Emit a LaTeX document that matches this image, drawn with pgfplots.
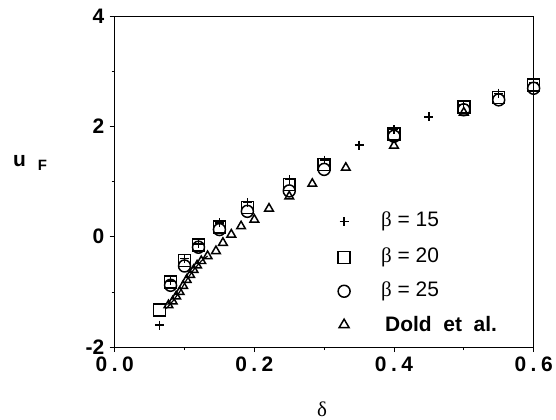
\documentclass[border=0pt]{standalone}
\usepackage{pgfplots}
\pgfplotsset{compat=1.18}
\usepackage{fontspec}
\setmainfont{Liberation Sans}
\newfontfamily\serifgreek{Liberation Serif}
\begin{document}
\begin{tikzpicture}
\begin{axis}[
  name=ax,
  scale only axis,
  width=420pt, height=332pt,
  xmin=0, xmax=0.6, ymin=-2, ymax=4,
  xtick={0,0.2,0.4,0.6},
  xticklabels={0\kern4.5pt.\kern4.5pt0,0\kern4.5pt.\kern4.5pt2,0\kern4.5pt.\kern4.5pt4,0\kern4.5pt.\kern4.5pt6},
  ytick={-2,0,2,4},
  yticklabels={-2,0,2,4},
  minor xtick={0.1,0.3,0.5},
  minor ytick={-1,1,3},
  xtick pos=left, ytick pos=left,
  tick align=outside,
  major tick length=5pt, minor tick length=3pt,
  tick style={black, line width=0.8pt},
  axis line style={line width=0.9pt},
  tick label style={font=\fontsize{21}{23}\selectfont\bfseries},
  xticklabel style={yshift=-1pt},
  yticklabel style={xshift=-2pt},
  clip=false,
]
% Dold et al. (triangles)
\addplot[only marks, mark=triangle, mark size=5pt, mark options={line width=1.5pt, black}] coordinates {
(0.077,-1.24) (0.083,-1.17) (0.088,-1.08) (0.093,-1.00) (0.098,-0.89)
(0.103,-0.78) (0.108,-0.69) (0.113,-0.60) (0.118,-0.52) (0.124,-0.44)
(0.133,-0.35) (0.145,-0.26) (0.155,-0.11) (0.167,0.04) (0.181,0.19)
(0.200,0.31) (0.221,0.51) (0.250,0.73) (0.283,0.96) (0.331,1.25)
(0.400,1.65) (0.500,2.25)};
\addplot[black, line width=1.2pt] coordinates {
(0.074,-1.30) (0.083,-1.17) (0.093,-1.00) (0.103,-0.78) (0.113,-0.60) (0.124,-0.44) (0.133,-0.35)};
% beta = 20 (squares)
\addplot[only marks, mark=square, mark size=6pt, mark options={line width=1.5pt, black}] coordinates {
(0.064,-1.33) (0.080,-0.82) (0.100,-0.43) (0.120,-0.15) (0.150,0.18)
(0.190,0.53) (0.250,0.95) (0.300,1.31) (0.400,1.86) (0.500,2.35)
(0.550,2.52) (0.600,2.75)};
% beta = 25 (circles)
\addplot[only marks, mark=o, mark size=6pt, mark options={line width=1.5pt, black}] coordinates {
(0.080,-0.88) (0.100,-0.53) (0.120,-0.19) (0.150,0.13) (0.190,0.46)
(0.250,0.83) (0.300,1.22) (0.400,1.82) (0.500,2.30) (0.550,2.48)
(0.600,2.69)};
% beta = 15 (plus)
\addplot[only marks, mark=+, mark size=4.5pt, mark options={line width=1.3pt, black}] coordinates {
(0.064,-1.60) (0.080,-0.80) (0.100,-0.40) (0.120,-0.13) (0.150,0.25)
(0.190,0.62) (0.250,1.04) (0.300,1.39) (0.350,1.66) (0.400,1.94)
(0.450,2.17) (0.500,2.39) (0.550,2.60) (0.600,2.80)};
\end{axis}
\begin{scope}[shift={(ax.south west)}, x=1pt, y=1pt]
  \path (-115,-70) rectangle (441,348);
  % legend
  \draw[black, line width=1.3pt] (230-4.5,126) -- (230+4.5,126) (230,126-4.5) -- (230,126+4.5);
  \draw[black, line width=1.5pt] (230-6,90-6) rectangle (230+6,90+6);
  \draw[black, line width=1.5pt] (230,56) circle (6);
  \draw[black, line width=1.5pt] (230-5,23-3.5) -- (230+5,23-3.5) -- (230,23+5) -- cycle;
  \node[anchor=west, inner sep=0pt, font=\fontsize{21}{23}\selectfont] at (267,126) {{\serifgreek β} = 15};
  \node[anchor=west, inner sep=0pt, font=\fontsize{21}{23}\selectfont] at (267,90) {{\serifgreek β} = 20};
  \node[anchor=west, inner sep=0pt, font=\fontsize{21}{23}\selectfont] at (267,56) {{\serifgreek β} = 25};
  \node[anchor=west, inner sep=0pt, font=\fontsize{21}{23}\selectfont\bfseries] at (271,23) {Dold\ \ et\ \ al.};
  % axis labels
  \node[font=\fontsize{21}{23}\selectfont\bfseries, anchor=base west, inner sep=0pt] at (-102,181) {u\kern12pt\raisebox{-4pt}{\fontsize{15}{17}\selectfont F}};
  \node[font=\fontsize{21}{23}\selectfont\serifgreek] at (208,-62) {δ};
\end{scope}
\end{tikzpicture}
\end{document}
